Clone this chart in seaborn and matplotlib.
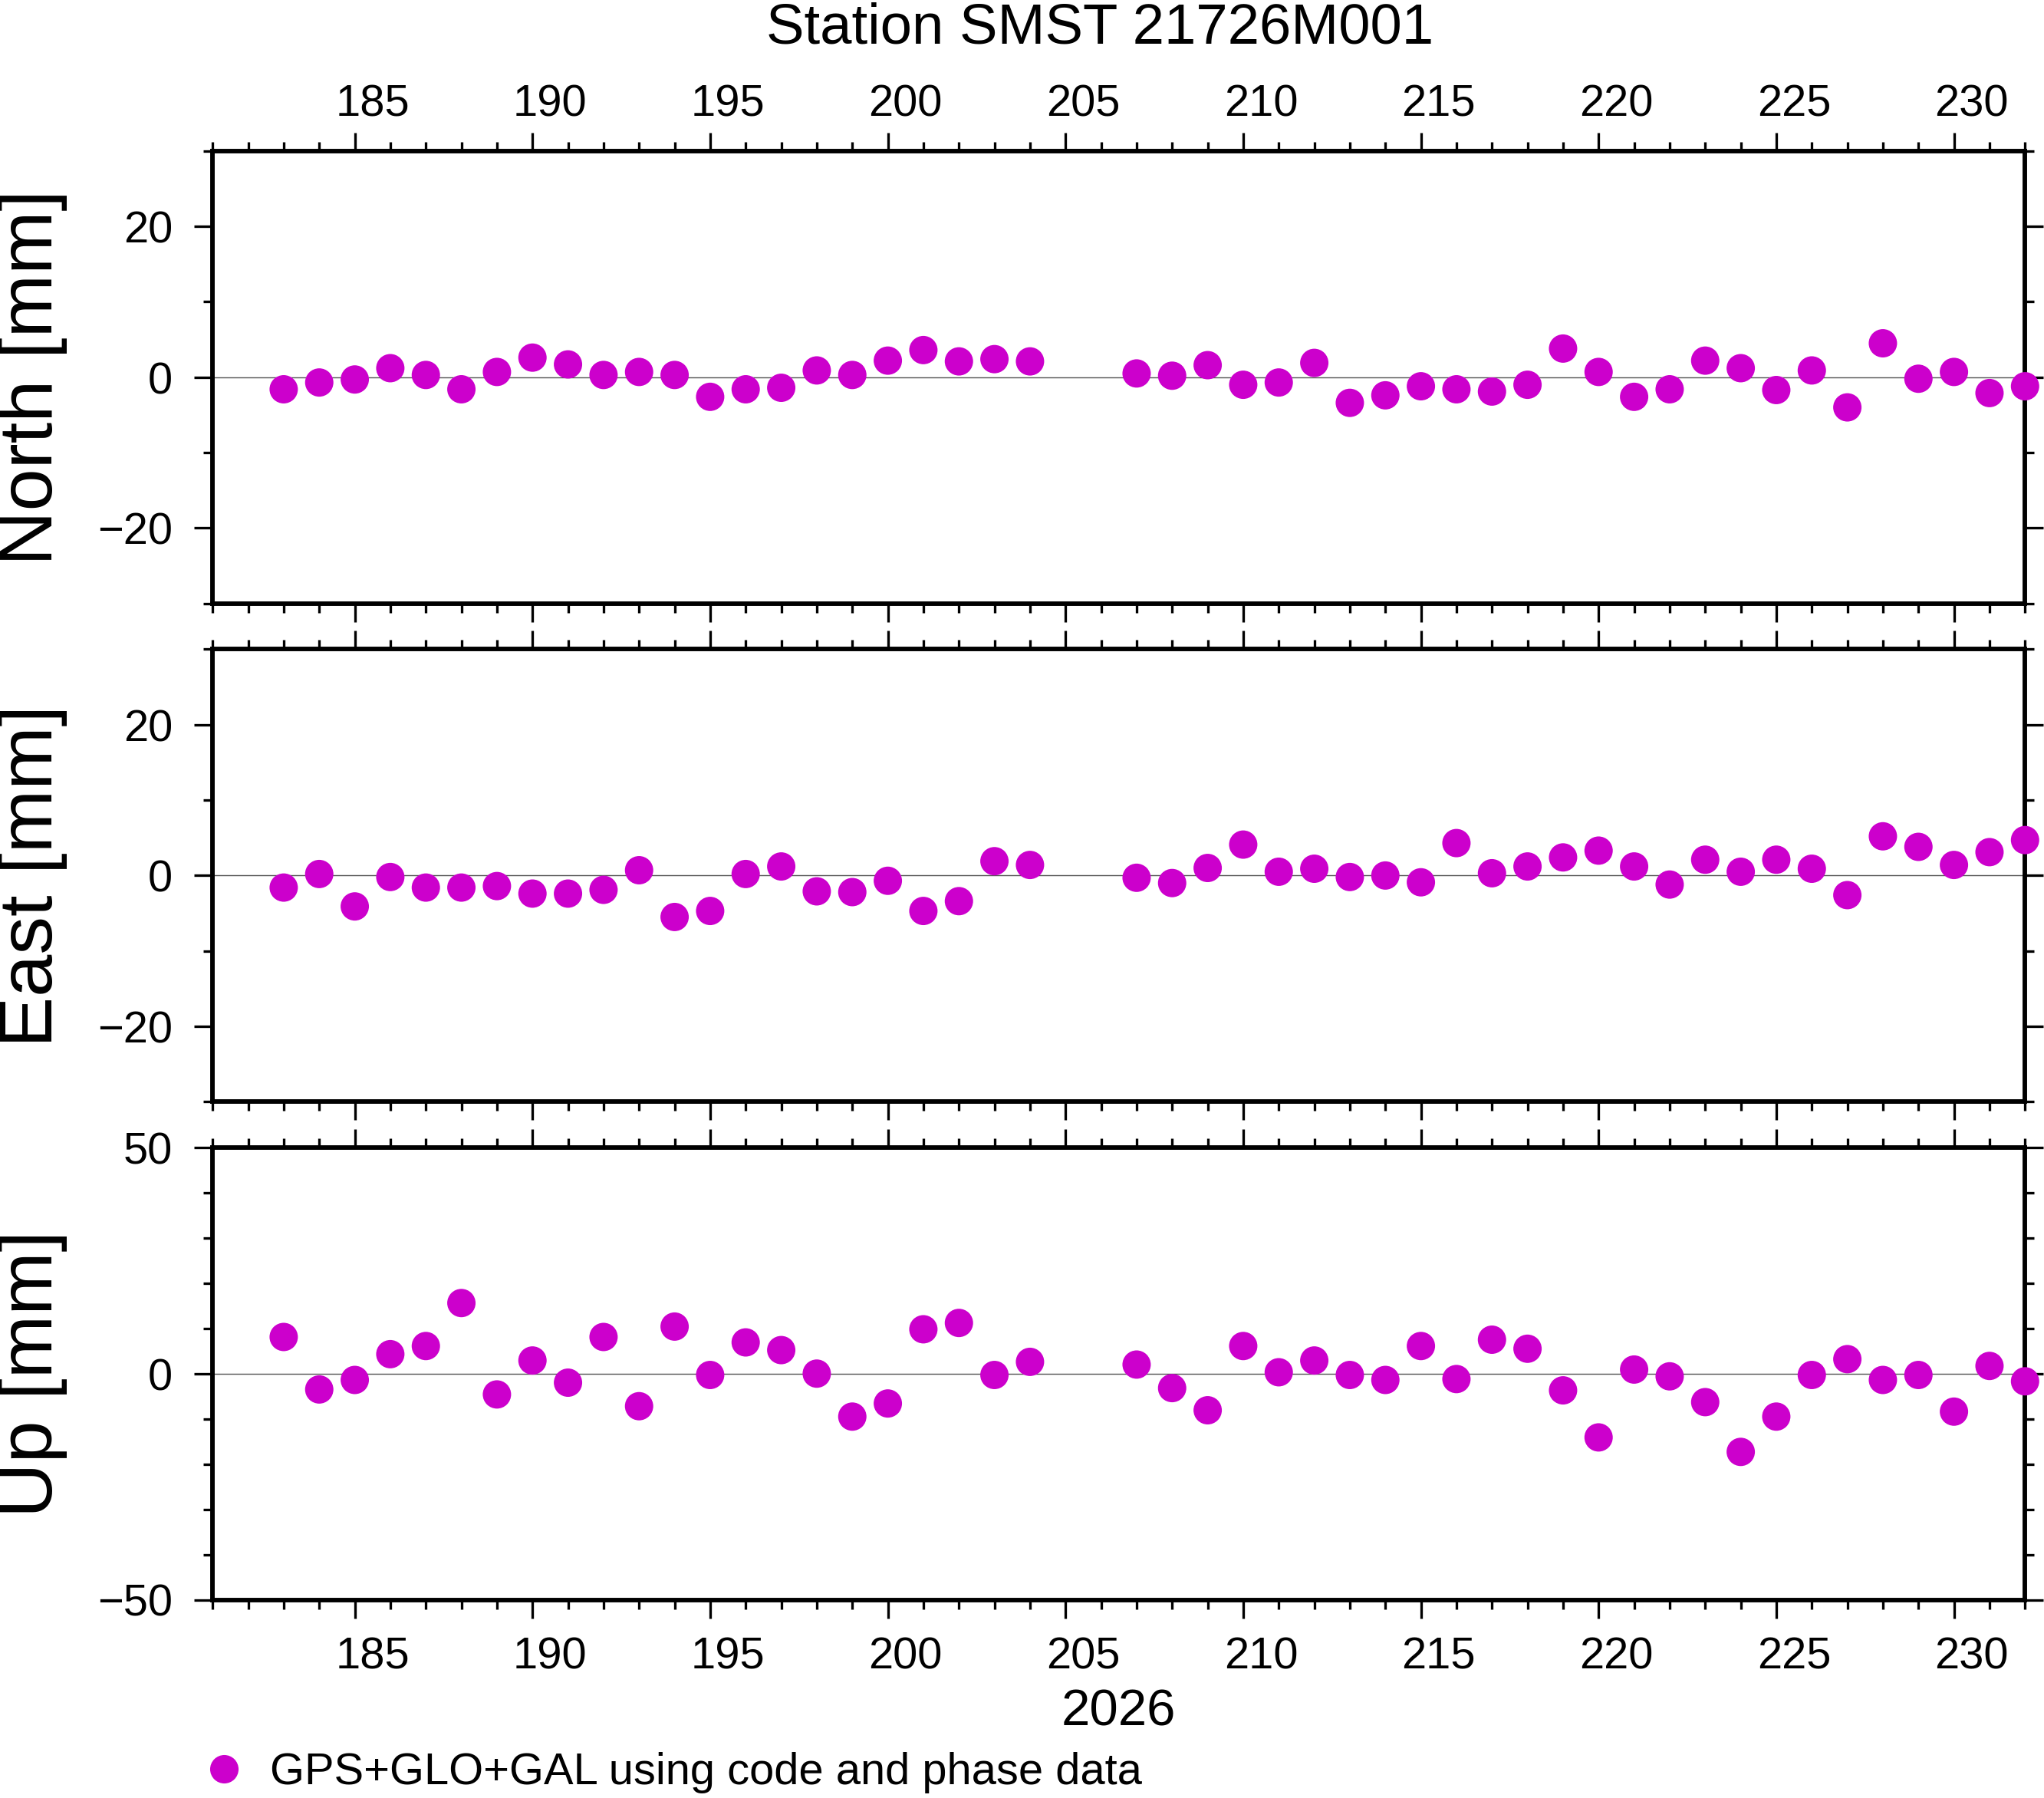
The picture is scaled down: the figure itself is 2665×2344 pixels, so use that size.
"""GNSS station time series: North / East / Up residuals."""

import matplotlib
matplotlib.use("Agg")
import matplotlib.pyplot as plt
from matplotlib.lines import Line2D
from matplotlib.ticker import FixedLocator, MultipleLocator
from matplotlib.transforms import ScaledTranslation
import pandas as pd
import seaborn as sns

# --- data (day of year 2026, residuals in mm) ---
days = list(range(183, 205)) + list(range(207, 233))

north = [-1.6, -0.7, -0.3, 1.2, 0.3, -1.6, 0.7, 2.6, 1.7, 0.3, 0.7, 0.3,
         -2.6, -1.6, -1.4, 0.9, 0.3, 2.2, 3.6, 2.1, 2.4, 2.1,
         0.5, 0.2, 1.6, -1.0, -0.7, 1.9, -3.4, -2.4, -1.2, -1.6, -1.9, -1.0,
         3.8, 0.7, -2.6, -1.6, 2.2, 1.2, -1.7, 0.9, -4.0, 4.5, -0.2, 0.7,
         -2.1, -1.2]

east = [-1.6, 0.2, -4.1, -0.2, -1.6, -1.6, -1.4, -2.4, -2.4, -1.9, 0.7, -5.5,
        -4.7, 0.2, 1.2, -2.1, -2.2, -0.7, -4.7, -3.4, 1.9, 1.4,
        -0.3, -1.0, 1.0, 4.1, 0.5, 0.9, -0.2, 0.0, -0.9, 4.3, 0.3, 1.2,
        2.4, 3.3, 1.2, -1.2, 2.1, 0.5, 2.1, 0.9, -2.6, 5.2, 3.8, 1.4,
        3.1, 4.7]

up = [8.1, -3.5, -1.4, 4.3, 6.1, 15.6, -4.6, 2.9, -2.0, 8.1, -7.2, 10.4,
      -0.3, 6.9, 5.2, 0.0, -9.5, -6.6, 9.8, 11.2, -0.3, 2.6,
      2.0, -3.2, -8.1, 6.1, 0.3, 2.9, -0.3, -1.4, 6.1, -1.2, 7.5, 5.5,
      -3.7, -14.1, 0.9, -0.6, -6.3, -17.3, -9.5, -0.3, 3.2, -1.4, -0.3,
      -8.4, 1.7, -1.7]

components = ["North", "East", "Up"]
ylims = {"North": (-30, 30), "East": (-30, 30), "Up": (-50, 50)}
ymajor = {"North": 20, "East": 20, "Up": 50}
day_ticks = list(range(185, 231, 5))
title = "Station SMST 21726M001"
year_label = "2026"
legend_label = "GPS+GLO+GAL using code and phase data"

COLOR = "#cc00cc"
FONT = ["Liberation Sans", "DejaVu Sans"]

df = pd.DataFrame({"day": days, "North": north, "East": east, "Up": up})

sns.set_style("ticks")
plt.rcParams["font.family"] = FONT
plt.rcParams["axes.unicode_minus"] = True
plt.rcParams["text.color"] = "black"
plt.rcParams["xtick.color"] = "black"
plt.rcParams["ytick.color"] = "black"
plt.rcParams["xtick.labelcolor"] = "black"
plt.rcParams["ytick.labelcolor"] = "black"

fig = plt.figure(figsize=(15.68, 13.79), dpi=170)

left, width, height = 0.104, 0.8865, 0.2516
bottoms = {"North": 0.6643, "East": 0.3872, "Up": 0.1102}
xlim = (181, 232)

# tick labels sit in the middle of the day interval
half_day = 0.5 * width * 15.68 / (xlim[1] - xlim[0])
shift_bottom = ScaledTranslation(half_day, 0, fig.dpi_scale_trans)
shift_top = ScaledTranslation(half_day, -0.08, fig.dpi_scale_trans)

axes = {}
for comp in components:
    ax = fig.add_axes([left, bottoms[comp], width, height])
    axes[comp] = ax
    ax.axhline(0, color="#555555", lw=0.6, zorder=1)
    sns.scatterplot(data=df, x="day", y=comp, ax=ax, color=COLOR, s=245,
                    edgecolor="none", linewidth=0, zorder=3, clip_on=False,
                    legend=False)
    ax.set_xlim(*xlim)
    ax.set_ylim(*ylims[comp])
    ax.xaxis.set_major_locator(FixedLocator(day_ticks))
    ax.xaxis.set_minor_locator(MultipleLocator(1))
    ax.yaxis.set_major_locator(MultipleLocator(ymajor[comp]))
    ax.yaxis.set_minor_locator(MultipleLocator(10))
    ax.set_xlabel("")
    ax.set_ylabel("")
    for sp in ax.spines.values():
        sp.set_visible(True)
        sp.set_linewidth(2.5)
        sp.set_color("black")
    ax.tick_params(which="both", direction="out", top=True, bottom=True,
                   left=True, right=True, labelright=False, color="black",
                   width=1.4)
    ax.tick_params(which="major", length=10)
    ax.tick_params(which="minor", length=5)
    ax.tick_params(axis="x", which="major", pad=10, labelsize=24.5)
    ax.tick_params(axis="y", which="major", pad=12, labelsize=24.5)
    ax.tick_params(axis="x", labeltop=(comp == "North"),
                   labelbottom=(comp == "Up"))
    ax.set_xticklabels([str(d) for d in day_ticks])
    fig.text(0.016, bottoms[comp] + height / 2, f"{comp} [mm]",
             rotation=90, ha="center", va="center", fontsize=42)

fig.canvas.draw()
for ax in axes.values():
    for tick in ax.xaxis.get_major_ticks():
        tick.label1.set_transform(tick.label1.get_transform() + shift_bottom)
        tick.label2.set_transform(tick.label2.get_transform() + shift_top)

fig.text(0.538, 1 - 57 / 2345, title, ha="center", va="baseline",
         fontsize=31.5)
fig.text(left + width / 2, 1 - 2250 / 2345, year_label, ha="center",
         va="baseline", fontsize=28.5)

handle = Line2D([], [], marker="o", linestyle="none", color=COLOR,
                markersize=15.7, markeredgewidth=0)
fig.legend([handle], [legend_label], loc="center left",
           bbox_to_anchor=(0.0987, 1 - 2312 / 2345), frameon=False,
           fontsize=24.5, handlelength=1.0, handletextpad=0.53,
           borderpad=0, borderaxespad=0)

fig.savefig("out.png", dpi=170)
